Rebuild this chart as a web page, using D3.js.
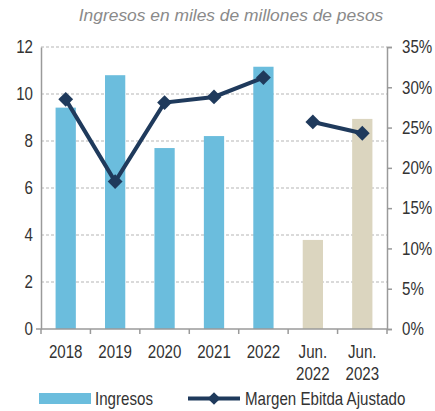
<!DOCTYPE html>
<html>
<head>
<meta charset="utf-8">
<script src="https://cdn.jsdelivr.net/npm/d3@7"></script>
<style>
  body { margin: 0; background: #fff; }
  text { font-family: 'Liberation Sans', Arial, sans-serif; }
</style>
</head>
<body>
<div id="wrapper"></div>
<script>
// data
const categories = ['2018', '2019', '2020', '2021', '2022', 'Jun.\n2022', 'Jun.\n2023'];
const ingresos = [9.42, 10.8, 7.7, 8.21, 11.16, 3.79, 8.94];
const margen = [28.5, 18.3, 28.1, 28.8, 31.2, 25.7, 24.3];
const isPartial = [false, false, false, false, false, true, true];
const leftTicks = [0, 2, 4, 6, 8, 10, 12];
const rightTicks = [0, 5, 10, 15, 20, 25, 30, 35];

const width = 435, height = 411;
const margin = {top: 47, right: 48, bottom: 82, left: 41};

const svg = d3.select('#wrapper').append('svg')
  .attr('width', width).attr('height', height);

const x = d3.scaleBand()
  .domain(categories)
  .range([margin.left, width - margin.right])
  .paddingInner(0.59).paddingOuter(0.295);
const xOuter = d3.scaleBand().domain(categories).range([margin.left, width - margin.right]);
const yL = d3.scaleLinear().domain([0, 12]).range([height - margin.bottom, margin.top]);
const yR = d3.scaleLinear().domain([0, 35]).range([height - margin.bottom, margin.top]);

// title
svg.append('text')
  .attr('x', 231).attr('y', 21)
  .attr('text-anchor', 'middle')
  .attr('font-size', 17.4).attr('font-style', 'italic')
  .attr('fill', '#8a8a8a')
  .text('Ingresos en miles de millones de pesos');

// grid
svg.append('g').selectAll('line')
  .data(leftTicks.filter(d => d > 0))
  .join('line')
  .attr('x1', margin.left).attr('x2', width - margin.right)
  .attr('y1', d => yL(d)).attr('y2', d => yL(d))
  .attr('stroke', '#b5b5b5').attr('stroke-dasharray', '3,2');

// bars
svg.append('g').selectAll('rect')
  .data(categories)
  .join('rect')
  .attr('x', d => x(d))
  .attr('width', x.bandwidth())
  .attr('y', (d, i) => yL(ingresos[i]))
  .attr('height', (d, i) => yL(0) - yL(ingresos[i]))
  .attr('fill', (d, i) => isPartial[i] ? '#dbd5bf' : '#6bbddd');

// left axis
const gl = svg.append('g').attr('transform', `translate(${margin.left},0)`)
  .call(d3.axisLeft(yL).tickValues(leftTicks).tickSize(0).tickPadding(8));
gl.select('.domain').attr('stroke', '#9a9a9a').attr('stroke-width', 1.5);
gl.selectAll('text').attr('class', 'narrow').attr('font-size', 18).attr('fill', '#333');

// right axis
const gr = svg.append('g').attr('transform', `translate(${width - margin.right},0)`)
  .call(d3.axisRight(yR).tickValues(rightTicks).tickSize(5).tickPadding(10).tickFormat(d => d + '%'));
gr.select('.domain').attr('stroke', '#9a9a9a').attr('stroke-width', 1.5);
gr.selectAll('line').attr('stroke', '#9a9a9a').attr('stroke-width', 1.5);
gr.selectAll('text').attr('class', 'narrow').attr('font-size', 18).attr('fill', '#333');

// bottom axis
const xb = svg.append('g').attr('transform', `translate(0,${yL(0)})`);
xb.append('line')
  .attr('x1', margin.left - 5).attr('x2', width - margin.right)
  .attr('stroke', '#9a9a9a').attr('stroke-width', 1.5);
xb.selectAll('.tick')
  .data(categories.concat(['__end']))
  .join('line')
  .attr('x1', (d, i) => margin.left + i * xOuter.bandwidth())
  .attr('x2', (d, i) => margin.left + i * xOuter.bandwidth())
  .attr('y1', 0).attr('y2', 5)
  .attr('stroke', '#9a9a9a').attr('stroke-width', 1.5);
categories.forEach(c => {
  c.split('\n').forEach((part, j) => {
    xb.append('text')
      .attr('class', 'narrow')
      .attr('x', x(c) + x.bandwidth() / 2)
      .attr('y', 29 + j * 22)
      .attr('text-anchor', 'middle')
      .attr('font-size', 18).attr('fill', '#333')
      .text(part);
  });
});

// line
const pts = categories.map((c, i) => ({c, v: margen[i], p: isPartial[i]}));
const line = d3.line()
  .x(d => x(d.c) + x.bandwidth() / 2)
  .y(d => yR(d.v));
const navy = '#1f3a5c';
[pts.filter(d => !d.p), pts.filter(d => d.p)].forEach(seg => {
  svg.append('path')
    .datum(seg)
    .attr('fill', 'none').attr('stroke', navy).attr('stroke-width', 4)
    .attr('d', line);
});
svg.append('g').selectAll('path')
  .data(pts)
  .join('path')
  .attr('transform', d => `translate(${x(d.c) + x.bandwidth() / 2},${yR(d.v)}) rotate(45)`)
  .attr('d', d3.symbol().type(d3.symbolSquare).size(110))
  .attr('fill', navy);

// legend
const lg = svg.append('g');
lg.append('rect').attr('x', 39).attr('y', 393).attr('width', 52).attr('height', 11).attr('fill', '#6bbddd');
lg.append('text').attr('class', 'narrow').attr('x', 95).attr('y', 405).attr('font-size', 18).attr('fill', '#333').text('Ingresos');
lg.append('line').attr('x1', 188).attr('x2', 240).attr('y1', 398.5).attr('y2', 398.5)
  .attr('stroke', navy).attr('stroke-width', 4);
lg.append('path').attr('transform', 'translate(214,398.5) rotate(45)')
  .attr('d', d3.symbol().type(d3.symbolSquare).size(80)).attr('fill', navy);
lg.append('text').attr('class', 'narrow').attr('x', 245).attr('y', 405).attr('font-size', 18).attr('fill', '#333').text('Margen Ebitda Ajustado');

// squeeze labels horizontally to mimic a narrow face
svg.selectAll('text.narrow').each(function () {
  const t = d3.select(this);
  const tx = +t.attr('x') || 0;
  t.attr('x', 0).attr('transform', `translate(${tx},0) scale(0.84,1)`);
});
</script>
</body>
</html>
